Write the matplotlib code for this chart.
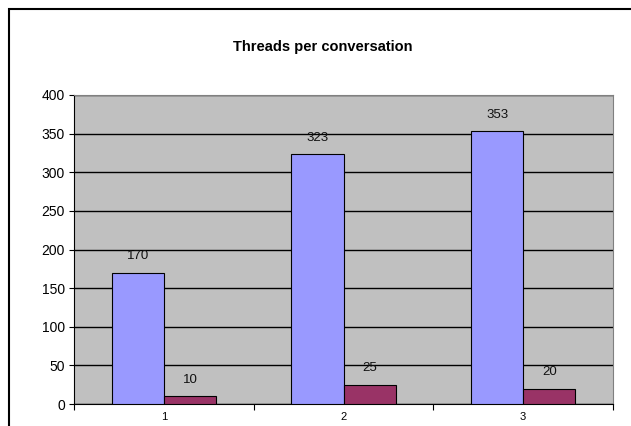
import matplotlib
matplotlib.use('Agg')
import matplotlib.pyplot as plt
from matplotlib.patches import Rectangle
import numpy as np

# data
categories = ['1', '2', '3']
series_a = [170, 323, 353]
series_b = [10, 25, 20]
y_ticks = [0, 50, 100, 150, 200, 250, 300, 350, 400]

plt.rcParams['font.family'] = ['Liberation Sans', 'DejaVu Sans']

fig = plt.figure(figsize=(6.31, 4.26), dpi=100)
ax = fig.add_axes([0.1173, 0.0516, 0.8542, 0.7254])
ax.set_facecolor('#C0C0C0')

x = np.arange(len(categories))
w = 0.29
bars_a = ax.bar(x - w / 2, series_a, w, color='#9999FF', edgecolor='black', linewidth=0.8, zorder=3)
bars_b = ax.bar(x + w / 2, series_b, w, color='#993366', edgecolor='black', linewidth=0.8, zorder=3)

# value labels above each bar
for bars, vals in [(bars_a, series_a), (bars_b, series_b)]:
    for b, v in zip(bars, vals):
        ax.annotate(str(v), (b.get_x() + b.get_width() / 2, v), xytext=(0, 12),
                    textcoords='offset points', ha='center', va='center',
                    fontsize=9.5, color='#111111', zorder=4)

ax.set_xlim(-0.5, 2.5)
ax.set_ylim(0, 400)
ax.set_yticks(y_ticks)
ax.set_yticklabels([str(t) for t in y_ticks], fontsize=10)
ax.yaxis.grid(True, color='black', linewidth=1.0, zorder=1)
ax.set_axisbelow(True)

ax.set_xticks(x)
ax.set_xticklabels(categories, fontsize=8)
ax.tick_params(axis='x', which='major', length=0, pad=6)
ax.set_xticks([-0.5, 0.5, 1.5, 2.5], minor=True)
ax.tick_params(axis='x', which='minor', length=4, width=0.8, direction='out')
ax.tick_params(axis='y', length=3.5, width=0.8, direction='out', pad=3)

ax.spines['top'].set_color('#808080')
ax.spines['right'].set_color('#808080')
ax.spines['left'].set_color('black')
ax.spines['bottom'].set_color('black')
for s in ax.spines.values():
    s.set_linewidth(0.8)

fig.text(0.512, 0.8897, 'Threads per conversation', ha='center', va='center',
         fontsize=10.5, fontweight='bold')

# chart area border, cut off at right and bottom
fig.patches.append(Rectangle((9 / 631, -0.1), 1.2, 0.1 + (426 - 9) / 426,
                             transform=fig.transFigure, fill=False,
                             edgecolor='black', linewidth=1.5))

fig.savefig('out.png', dpi=100)
